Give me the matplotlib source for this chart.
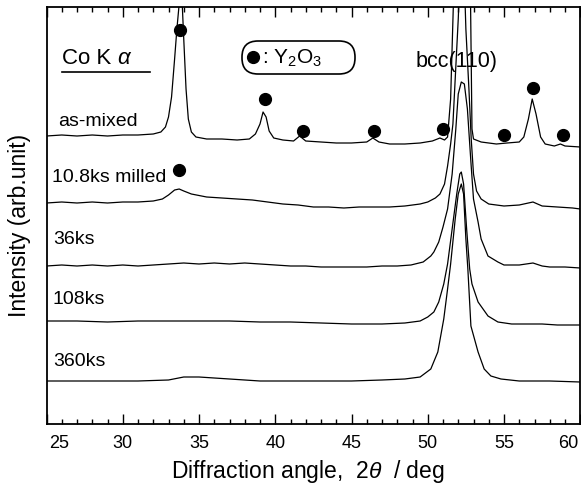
import matplotlib
matplotlib.use('Agg')
import matplotlib.pyplot as plt
from matplotlib.transforms import ScaledTranslation
from matplotlib.patches import FancyBboxPatch
from matplotlib.ticker import MultipleLocator

plt.rcParams['font.family'] = ['Liberation Sans', 'DejaVu Sans']
plt.rcParams['mathtext.fontset'] = 'custom'
plt.rcParams['mathtext.rm'] = 'Liberation Sans'
plt.rcParams['mathtext.it'] = 'Liberation Sans:italic'

# ---------------- data (2theta in deg, intensity in arb. units, stacked) ----------------
angle_as_mixed = [25.0, 26, 27, 28, 29, 30, 31, 32, 32.5, 32.8, 33.0, 33.2, 33.4, 33.55, 33.7, 33.8,
                  33.9, 34.0, 34.15, 34.3, 34.5, 34.8, 35.5, 36.5, 37.5, 38.3, 38.7, 39.0, 39.2, 39.4,
                  39.6, 39.9, 40.5, 41.2, 41.6, 42.0, 43, 44, 45, 46, 46.4, 46.8, 47.5, 48.5, 49.5,
                  50.3, 50.8, 51.1, 51.3, 51.5, 51.7, 51.8, 52.3, 52.7, 52.8, 52.9, 53.0, 53.5, 54.5,
                  55.2, 56.0, 56.3, 56.6, 56.85, 57.1, 57.4, 57.7, 58.3, 58.7, 59.0, 60]
int_as_mixed = [288, 289, 288, 289, 288, 289, 289, 290, 292, 297, 307, 327, 365, 395, 420, 440,
                420, 385, 335, 305, 292, 287, 285, 285, 284, 285, 290, 300, 312, 307,
                293, 286, 284, 283, 288, 283, 282, 281, 281, 282, 286, 282, 280, 280, 281,
                283, 286, 284, 287, 325, 430, 445, 465, 435, 430, 295, 285, 282, 280,
                281, 282, 287, 305, 325, 310, 287, 280, 278, 280, 278, 277]

angle_108_milled = [25, 26, 27, 28, 29, 30, 31, 32, 32.6, 33.0, 33.4, 33.7, 34.0, 34.5, 35.5, 36.5,
                    37.5, 38.5, 39.5, 40.5, 41.5, 42.5, 43.5, 44.5, 45.5, 46.5, 47.5, 48.5, 49.5,
                    50.0, 50.5, 50.8, 51.1, 51.3, 51.5, 51.65, 51.8, 52.0, 52.1, 52.25, 52.4, 52.5,
                    52.7, 52.85, 53.0, 53.2, 53.5, 54, 55, 56, 56.9, 57.5, 58.5, 59.5, 60]
int_108_milled = [221, 222, 221, 222, 221, 222, 222, 223, 225, 229, 234, 235, 233, 230, 227, 226,
                  225, 224, 222, 220, 219, 217, 217, 216, 217, 217, 217, 218, 220,
                  222, 226, 230, 240, 258, 280, 300, 345, 405, 445, 485, 445, 395,
                  335, 285, 250, 233, 225, 220, 218, 219, 222, 218, 217, 216, 215]

angle_36ks = [25, 26, 27, 28, 29, 30, 31, 32, 33, 34, 35, 36, 37, 38, 39, 40, 41, 42, 43, 44, 45,
              46, 47, 48, 48.9, 49.7, 50.2, 50.4, 50.72, 51.0, 51.3, 51.6, 51.84, 52.0, 52.2, 52.4,
              52.6, 52.83, 53.0, 53.3, 53.5, 53.95, 54.6, 55, 56, 56.9, 57.5, 58, 59, 60]
int_36ks = [158, 159, 158, 159, 158, 159, 158, 159, 160, 161, 160, 161, 160, 161, 160, 159, 158,
            158, 157, 157, 157, 157, 158, 158, 159, 162, 168, 172, 182, 197, 215, 250, 295, 330,
            342, 340, 315, 262, 225, 202, 185, 168, 162, 159, 159, 161, 158, 157, 157, 156]

angle_108ks = [25, 27, 29, 31, 33, 35, 37, 39, 41, 43, 45, 47, 48.5, 49.5, 50.0, 50.4, 50.72,
               51.05, 51.3, 51.6, 51.9, 52.1, 52.2, 52.35, 52.55, 52.75, 52.9, 53.3, 53.95, 54.6,
               55.5, 56.5, 57.5, 58.5, 60]
int_108ks = [103, 103, 102, 103, 103, 103, 103, 102, 102, 101, 100, 100, 101, 103, 107, 112, 122,
             140, 160, 195, 230, 250, 252, 240, 195, 155, 140, 122, 108, 102,
             100, 100, 100, 99, 99]

angle_360ks = [25, 27, 29, 31, 33, 34, 35, 36, 37, 38, 39, 41, 43, 45, 47, 48.5, 49.5, 50.2, 50.66,
               51.05, 51.3, 51.5, 51.8, 52.0, 52.2, 52.35, 52.5, 52.63, 52.83, 53.3, 53.7, 54.14,
               54.8, 56, 58, 60]
int_360ks = [43, 43, 43, 43, 44, 47, 47, 46, 45, 44, 43, 43, 43, 43, 44, 45, 47, 55, 72,
             105, 135, 160, 205, 230, 240, 230, 185, 155, 98, 72, 55, 48,
             45, 43, 43, 42]

# Y2O3 peak markers (2theta, intensity level of the marker)
y2o3_angle = [33.75, 39.35, 41.8, 46.45, 51.0, 55.0, 56.9, 58.9, 33.7]
y2o3_level = [394, 325, 293, 293, 295, 289, 336, 289, 254]

trace_names = ['as-mixed', '10.8ks milled', '36ks', '108ks', '360ks']
x_ticks = [25, 30, 35, 40, 45, 50, 55, 60]

# ---------------- figure ----------------
W, H = 581, 485
fig = plt.figure(figsize=(W / 100, H / 100), dpi=100)
ax = fig.add_axes([46.5 / W, (H - 425) / H, 533.75 / W, 417 / H])

traces = [(angle_as_mixed, int_as_mixed), (angle_108_milled, int_108_milled),
          (angle_36ks, int_36ks), (angle_108ks, int_108ks), (angle_360ks, int_360ks)]
for a, i in traces:
    ax.plot(a, i, color='black', lw=0.9)

ax.plot(y2o3_angle, y2o3_level, 'o', color='black', ms=8.5, ls='none', clip_on=False)

ax.set_xlim(25, 60)
ax.set_ylim(0, 417)
ax.set_yticks([])
ax.set_xticks(x_ticks)
ax.set_xticklabels([str(t) for t in x_ticks], fontsize=13)
ax.xaxis.set_minor_locator(MultipleLocator(1))
ax.tick_params(axis='x', which='major', direction='in', length=7, width=1, top=True, pad=7.5)
ax.tick_params(axis='x', which='minor', direction='in', length=3.8, width=1, top=True)
for s in ax.spines.values():
    s.set_linewidth(1.3)

# shift first / last tick labels inward, as in the reference
tl = ax.get_xticklabels()
tl[0].set_transform(tl[0].get_transform() + ScaledTranslation(0.13, 0, fig.dpi_scale_trans))
tl[-1].set_transform(tl[-1].get_transform() + ScaledTranslation(-0.12, 0, fig.dpi_scale_trans))

# trace labels (pixel positions)
def px(x, y):
    return x / W, (H - y) / H

label_pos = [(58, 122), (52, 178), (53, 240), (53, 300), (53, 361)]
for name, (x, y) in zip(trace_names, label_pos):
    fig.text(*px(x, y), name, fontsize=14, ha='left', va='center')

# Co K alpha with underline
fig.text(*px(62, 58), 'Co K', fontsize=16, ha='left', va='center')
fig.text(*px(117, 58), '\u03b1', fontsize=16, ha='left', va='center', style='italic')
fig.add_artist(plt.Line2D([62 / W, 150 / W], [(H - 73) / H, (H - 73) / H], color='black', lw=1.2))

# Y2O3 legend box
box = FancyBboxPatch((2.42, (H - 75) / 100), 1.13, 0.33,
                     boxstyle='round,pad=0,rounding_size=0.16', transform=fig.dpi_scale_trans,
                     fc='white', ec='black', lw=1.2)
fig.add_artist(box)
fig.add_artist(plt.Line2D([253 / W], [(H - 58) / H], marker='o', color='black', ms=8.5))
fig.text(*px(262, 58), ': Y$_2$O$_3$', fontsize=15, ha='left', va='center')

fig.text(*px(457, 61), 'bcc(110)', fontsize=15.5, ha='center', va='center')

fig.text(*px(308, 472), r'Diffraction angle,  $2\theta$  / deg', fontsize=16.5, ha='center', va='center')
fig.text(*px(20, 225), 'Intensity (arb.unit)', fontsize=16.5, ha='center', va='center', rotation=90)

fig.savefig('out.png', dpi=100)
